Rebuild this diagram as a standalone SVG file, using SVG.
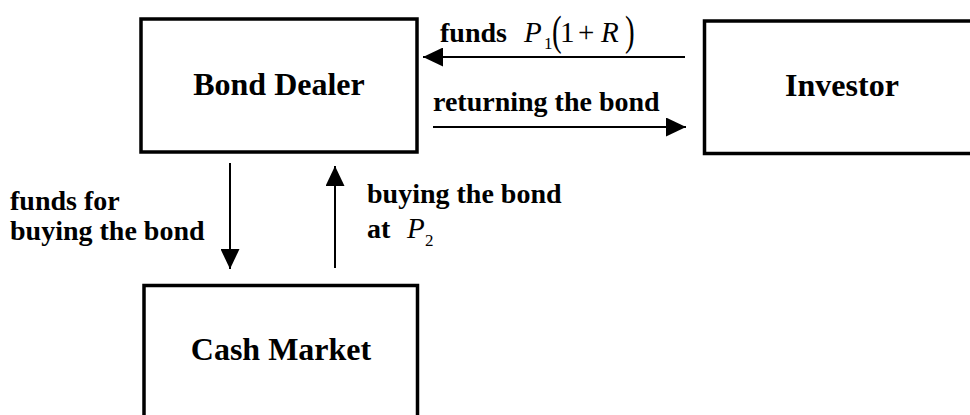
<svg xmlns="http://www.w3.org/2000/svg" width="970" height="415" viewBox="0 0 970 415">
<style>
.box{fill:#fff;stroke:#000;stroke-width:3.5}
.title{font-family:"Liberation Serif","Times New Roman",serif;font-weight:bold;font-size:32px;text-anchor:middle;fill:#000}
.lbl{font-family:"Liberation Serif","Times New Roman",serif;font-weight:bold;font-size:28px;fill:#000}
.m{font-family:"Liberation Serif","Times New Roman",serif;font-size:29px;fill:#000}
.mi{font-family:"Liberation Serif","Times New Roman",serif;font-size:29px;font-style:italic;fill:#000}
.sub{font-family:"Liberation Serif","Times New Roman",serif;font-size:17px;fill:#000}
.ln{stroke:#000;stroke-width:2;fill:none}
</style>
<defs>
<marker id="ah" viewBox="0 0 20 19" refX="20" refY="9.5" markerWidth="20" markerHeight="19" markerUnits="userSpaceOnUse" orient="auto">
<path d="M0,0 L20,9.5 L0,19 Z" fill="#000"/>
</marker>
</defs>
<g id="bond-dealer">
<rect class="box" x="141" y="19" width="276" height="133"/>
<text class="title" x="279" y="95">Bond Dealer</text>
</g>
<g id="investor">
<rect class="box" x="704.5" y="21" width="290" height="132.5"/>
<text class="title" x="842" y="96">Investor</text>
</g>
<g id="cash-market">
<rect class="box" x="144" y="285.5" width="273.5" height="150"/>
<text class="title" x="281" y="360">Cash Market</text>
</g>
<g id="connectors">
<line class="ln" x1="685" y1="57" x2="423" y2="57" marker-end="url(#ah)"/>
<line class="ln" x1="433" y1="127" x2="686" y2="127" marker-end="url(#ah)"/>
<line class="ln" x1="230" y1="163" x2="230" y2="269" marker-end="url(#ah)"/>
<line class="ln" x1="335" y1="268" x2="335" y2="166" marker-end="url(#ah)"/>
</g>
<g id="labels">
<text class="lbl" x="440" y="42">funds</text>
<text class="mi" x="524" y="42">P</text>
<text class="sub" x="544" y="49">1</text>
<text class="m" transform="translate(552,44.8) scale(1,1.42)">(</text>
<text class="m" x="560" y="42">1</text>
<text class="m" x="578" y="42">+</text>
<text class="mi" x="601" y="42">R</text>
<text class="m" transform="translate(625,44.8) scale(1,1.42)">)</text>
<text class="lbl" x="433" y="111">returning the bond</text>
<text class="lbl" x="10" y="210">funds for</text>
<text class="lbl" x="10" y="240">buying the bond</text>
<text class="lbl" x="367" y="203">buying the bond</text>
<text class="lbl" x="367" y="238">at</text>
<text class="mi" x="407" y="238">P</text>
<text class="sub" x="425" y="246">2</text>
</g>
</svg>
